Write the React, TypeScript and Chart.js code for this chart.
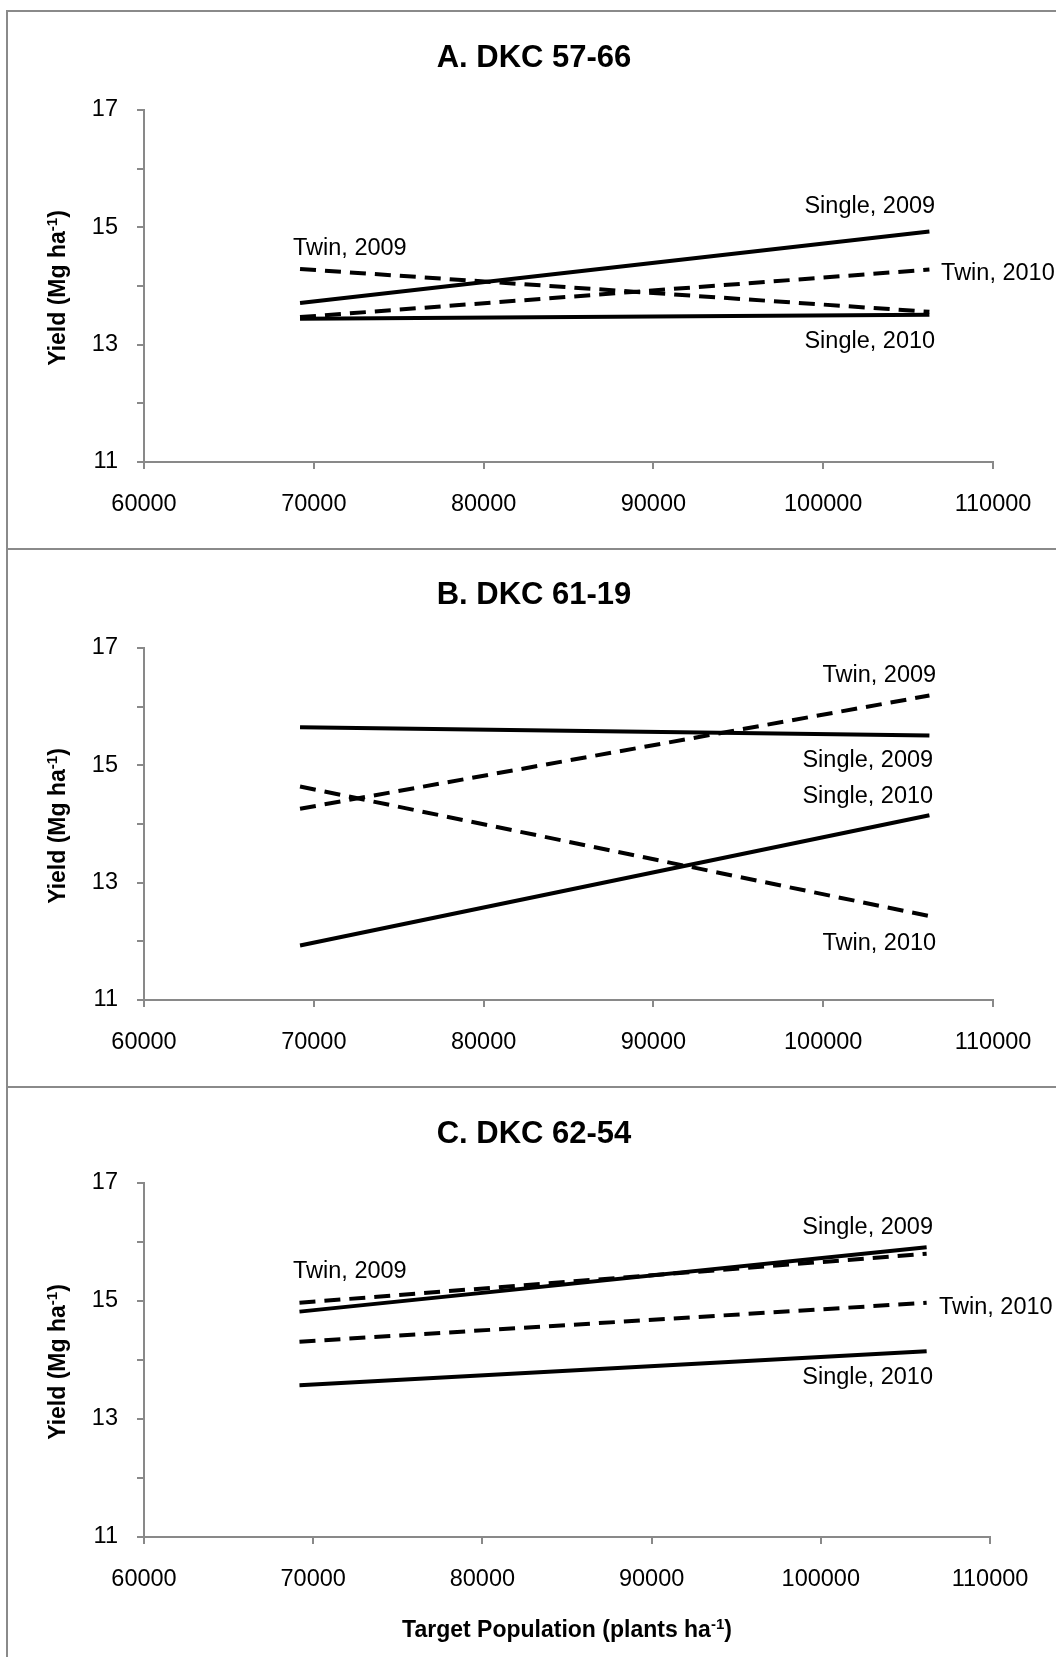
import React, { useEffect, useRef } from 'react';
import { Chart, registerables } from 'chart.js';

Chart.register(...registerables);

const FONT = '"Liberation Sans", Arial, Helvetica, sans-serif';
const AXIS_GRAY = '#898989';
const FRAME_GRAY = '#8a8a8a';

// ---------- data ----------
const populations = [69189, 106255];
const xTickValues = [60000, 70000, 80000, 90000, 100000, 110000];
const yTickValues = [11, 12, 13, 14, 15, 16, 17];
const yTickLabels = ['11', '', '13', '', '15', '', '17'];
const seriesNames = ['Single, 2009', 'Twin, 2009', 'Twin, 2010', 'Single, 2010'];
const seriesDashed = [false, true, true, false];

const titleA = 'A. DKC 57-66';
const single2009A = [13.71, 14.93];
const twin2009A = [14.29, 13.56];
const twin2010A = [13.47, 14.28];
const single2010A = [13.44, 13.51];
const labelXA = [106590, 68776, 106943, 106590];
const labelYA = [15.38, 14.68, 14.25, 13.08];
const labelAlignA = ['right', 'left', 'left', 'right'];

const titleB = 'B. DKC 61-19';
const single2009B = [15.65, 15.51];
const twin2009B = [14.26, 16.19];
const twin2010B = [14.64, 12.43];
const single2010B = [11.93, 14.15];
const labelXB = [106472, 106650, 106650, 106472];
const labelYB = [15.11, 16.57, 11.99, 14.5];
const labelAlignB = ['right', 'right', 'right', 'right'];

const titleC = 'C. DKC 62-54';
const single2009C = [14.82, 15.91];
const twin2009C = [14.97, 15.8];
const twin2010C = [14.31, 14.97];
const single2010C = [13.57, 14.15];
const labelXC = [106630, 68806, 106985, 106630];
const labelYC = [16.27, 15.53, 14.93, 13.73];
const labelAlignC = ['right', 'left', 'left', 'right'];

const yTitleParts = [{ t: 'Yield (Mg ha' }, { t: '-1', sup: true }, { t: ')' }];
const xTitleParts = [{ t: 'Target Population (plants ha' }, { t: '-1', sup: true }, { t: ')' }];

// ---------- layout ----------
type Part = { t: string; sup?: boolean };
type PanelDef = {
  top: number;
  height: number;
  plotTop: number;
  plotBottom: number;
  padRight: number;
  titleY: number;
  title: string;
  series: number[][];
  labelX: number[];
  labelY: number[];
  labelAlign: string[];
  xTitle: boolean;
};

const panels: PanelDef[] = [
  {
    top: 11, height: 537, plotTop: 99, plotBottom: 451, padRight: 63, titleY: 45,
    title: titleA, series: [single2009A, twin2009A, twin2010A, single2010A],
    labelX: labelXA, labelY: labelYA, labelAlign: labelAlignA, xTitle: false,
  },
  {
    top: 548, height: 539, plotTop: 100, plotBottom: 452, padRight: 63, titleY: 44.5,
    title: titleB, series: [single2009B, twin2009B, twin2010B, single2010B],
    labelX: labelXB, labelY: labelYB, labelAlign: labelAlignB, xTitle: false,
  },
  {
    top: 1087, height: 570, plotTop: 96, plotBottom: 450, padRight: 66, titleY: 44.5,
    title: titleC, series: [single2009C, twin2009C, twin2010C, single2010C],
    labelX: labelXC, labelY: labelYC, labelAlign: labelAlignC, xTitle: true,
  },
];

const TITLE_CX = 534;
const TICK_SIZE = 23.5;

function drawRich(ctx: CanvasRenderingContext2D, parts: Part[], size: number, x: number, y: number) {
  const main = `bold ${size}px ${FONT}`;
  const supSize = Math.round(size * 0.65);
  const sup = `bold ${supSize}px ${FONT}`;
  let total = 0;
  const widths = parts.map((p) => {
    ctx.font = p.sup ? sup : main;
    const w = ctx.measureText(p.t).width;
    total += w;
    return w;
  });
  let cx = x - total / 2;
  ctx.textAlign = 'left';
  ctx.textBaseline = 'alphabetic';
  parts.forEach((p, i) => {
    ctx.font = p.sup ? sup : main;
    ctx.fillText(p.t, cx, p.sup ? y - size * 0.36 : y);
    cx += widths[i];
  });
}

function Panel({ def }: { def: PanelDef }) {
  const ref = useRef<HTMLCanvasElement>(null);
  useEffect(() => {
    const canvas = ref.current;
    if (!canvas) return;
    const textPlugin = {
      id: 'panelText',
      afterDraw(chart: any) {
        const { ctx, chartArea, scales } = chart;
        ctx.save();
        ctx.fillStyle = '#000';
        ctx.font = `bold 31px ${FONT}`;
        ctx.textAlign = 'center';
        ctx.textBaseline = 'alphabetic';
        ctx.fillText(def.title, TITLE_CX, def.titleY + 0.358 * 31);

        ctx.font = `${TICK_SIZE}px ${FONT}`;
        seriesNames.forEach((name, i) => {
          ctx.textAlign = def.labelAlign[i] as CanvasTextAlign;
          ctx.fillText(
            name,
            scales.x.getPixelForValue(def.labelX[i]),
            scales.y.getPixelForValue(def.labelY[i]) + 0.358 * TICK_SIZE
          );
        });

        ctx.save();
        ctx.translate(65, (chartArea.top + chartArea.bottom) / 2 + 2);
        ctx.rotate(-Math.PI / 2);
        drawRich(ctx, yTitleParts, 23, 0, 0);
        ctx.restore();

        if (def.xTitle) {
          drawRich(ctx, xTitleParts, 23, (chartArea.left + chartArea.right) / 2, 542 + 0.358 * 23);
        }
        ctx.restore();
      },
    };

    const chart = new Chart(canvas, {
      type: 'line',
      data: {
        datasets: def.series.map((vals, i) => ({
          label: seriesNames[i],
          data: populations.map((p, j) => ({ x: p, y: vals[j] })),
          borderColor: '#000',
          backgroundColor: '#000',
          borderWidth: 4,
          borderDash: seriesDashed[i] ? [16, 9] : [],
          borderCapStyle: 'butt',
          pointRadius: 0,
          fill: false,
          tension: 0,
        })),
      },
      options: {
        animation: false,
        responsive: false,
        devicePixelRatio: 1,
        events: [],
        layout: { padding: { top: def.plotTop, right: def.padRight, left: 0, bottom: 0 } },
        plugins: {
          legend: { display: false },
          tooltip: { enabled: false },
          title: { display: false },
        },
        scales: {
          x: {
            type: 'linear',
            min: 60000,
            max: 110000,
            afterFit: (s: any) => {
              s.height = def.height - def.plotBottom;
            },
            afterBuildTicks: (s: any) => {
              s.ticks = xTickValues.map((value) => ({ value }));
            },
            ticks: {
              autoSkip: false,
              maxRotation: 0,
              padding: 21,
              color: '#000',
              font: { family: FONT, size: TICK_SIZE },
              callback: (v: any) => String(v),
            },
            grid: { drawOnChartArea: false, drawTicks: true, tickLength: 7, color: AXIS_GRAY, lineWidth: 2 },
            border: { display: true, color: AXIS_GRAY, width: 2 },
          },
          y: {
            type: 'linear',
            min: 11,
            max: 17,
            afterFit: (s: any) => {
              s.width = 144;
            },
            afterBuildTicks: (s: any) => {
              s.ticks = yTickValues.map((value) => ({ value }));
            },
            ticks: {
              autoSkip: false,
              padding: 19,
              color: '#000',
              font: { family: FONT, size: TICK_SIZE },
              callback: (v: any) => {
                const idx = yTickValues.indexOf(Number(v));
                return idx >= 0 ? yTickLabels[idx] : '';
              },
            },
            grid: { drawOnChartArea: false, drawTicks: true, tickLength: 7, color: AXIS_GRAY, lineWidth: 2 },
            border: { display: true, color: AXIS_GRAY, width: 2 },
          },
        },
      } as any,
      plugins: [textPlugin],
    });
    return () => chart.destroy();
  }, [def]);
  return (
    <canvas
      ref={ref}
      width={1056}
      height={def.height}
      style={{ position: 'absolute', left: 0, top: def.top, display: 'block' }}
    />
  );
}

export default function App() {
  const line = (style: React.CSSProperties) => (
    <div style={{ position: 'absolute', background: FRAME_GRAY, ...style }} />
  );
  return (
    <div
      style={{
        position: 'absolute',
        left: 0,
        top: 0,
        width: 1056,
        height: 1657,
        overflow: 'hidden',
        background: '#fff',
      }}
    >
      {panels.map((p, i) => (
        <Panel key={i} def={p} />
      ))}
      {line({ left: 6, top: 10, width: 1050, height: 2 })}
      {line({ left: 6, top: 10, width: 2, height: 1647 })}
      {line({ left: 6, top: 548, width: 1050, height: 2 })}
      {line({ left: 6, top: 1086, width: 1050, height: 2 })}
    </div>
  );
}
